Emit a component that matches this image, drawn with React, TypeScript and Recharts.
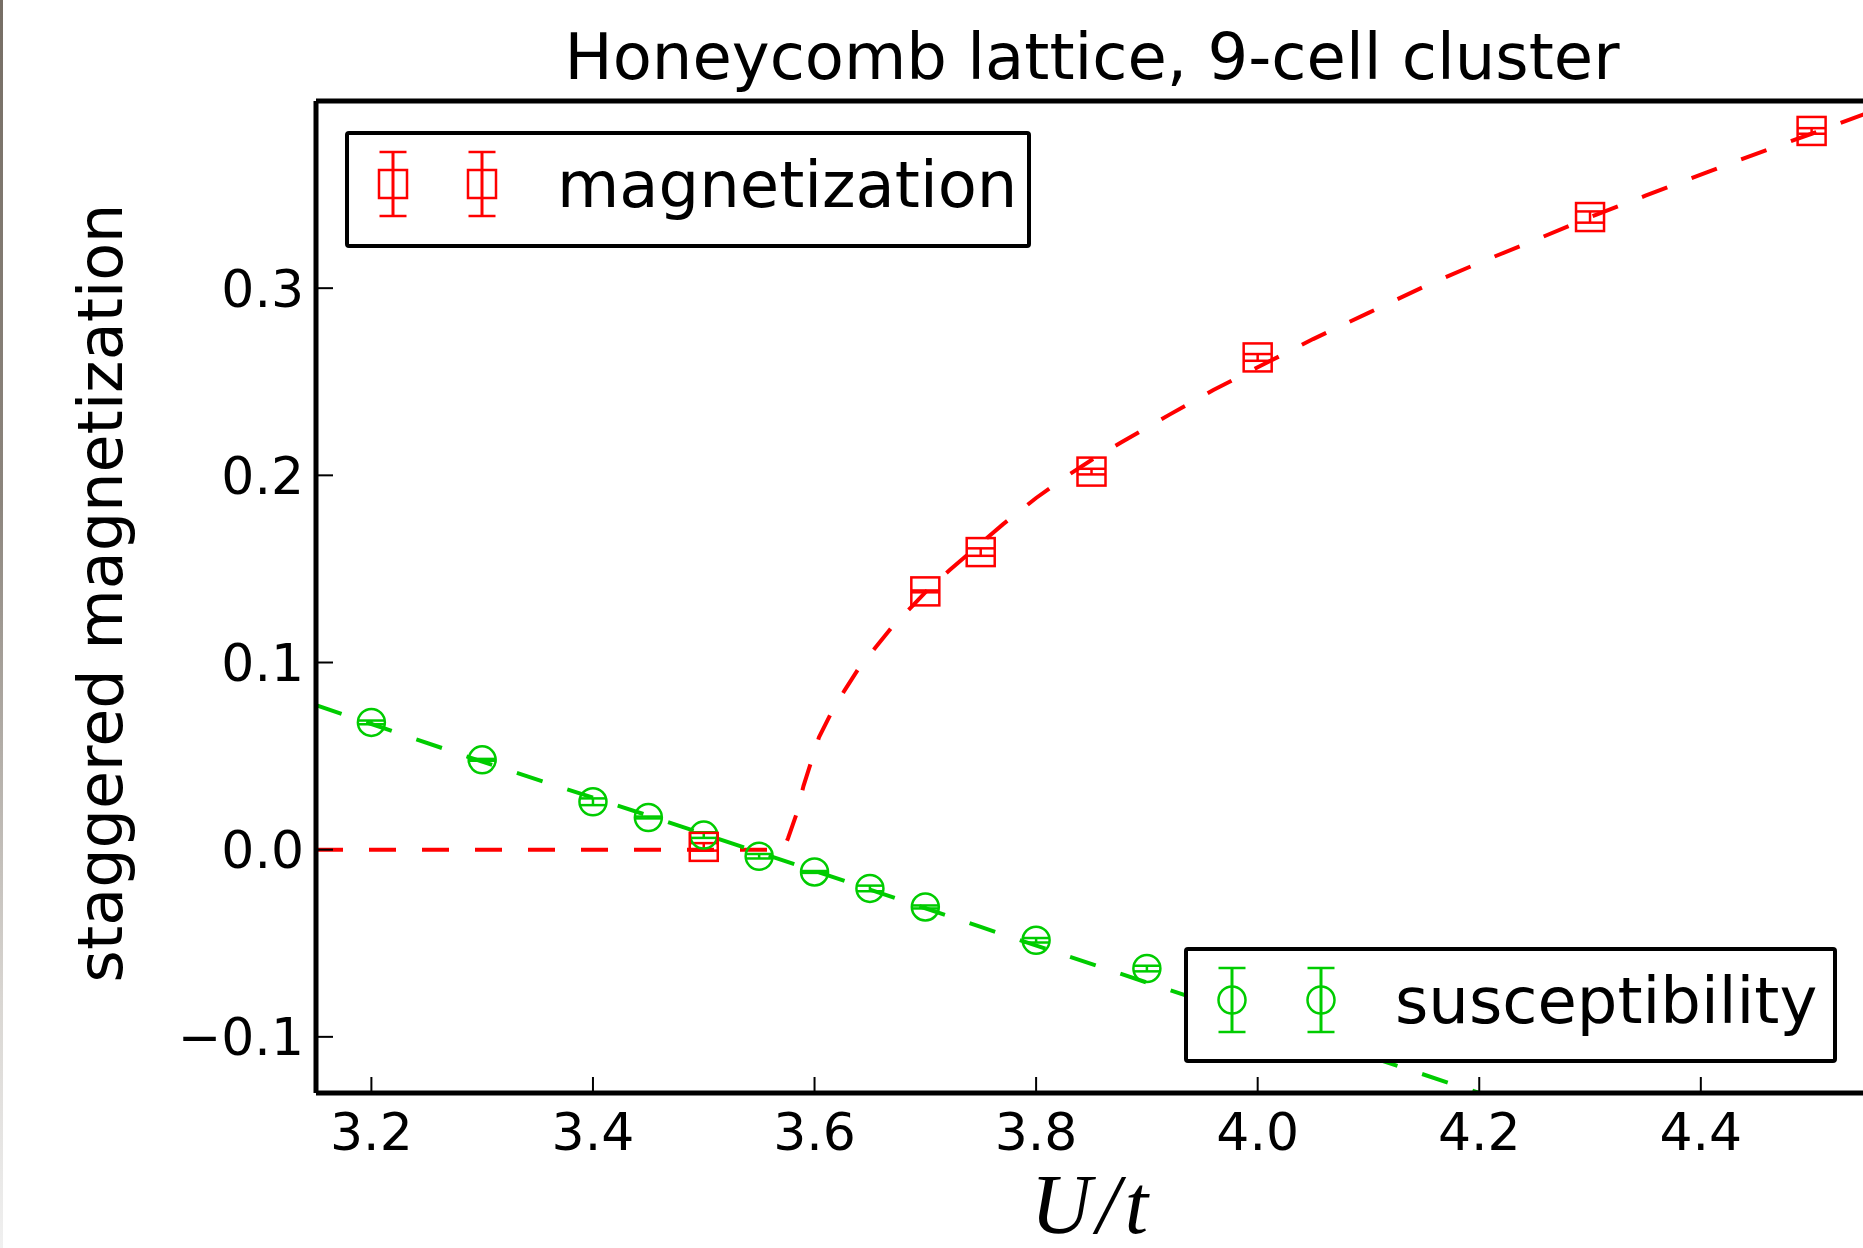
import React from "react";
import { ComposedChart, XAxis, YAxis, Scatter, Line, ErrorBar } from "recharts";

const RED = "#ff0000";
const GREEN = "#00cc00";
const FONT = "'DejaVu Sans', sans-serif";

// magnetization (red squares)
const magU = [3.5, 3.7, 3.75, 3.85, 4.0, 4.3, 4.5];
const magVal = [0.0015, 0.138, 0.159, 0.202, 0.263, 0.338, 0.384];
const magErr = [0.002, 0.0005, 0.002, 0.0015, 0.0018, 0.003, 0.0015];

// susceptibility (green circles)
const susU = [3.2, 3.3, 3.4, 3.45, 3.5, 3.55, 3.6, 3.65, 3.7, 3.8, 3.9];
const susVal = [0.068, 0.048, 0.0256, 0.0172, 0.0078, -0.0035, -0.0119, -0.0207, -0.0306, -0.0484, -0.0635];
const susErr = [0.001, 0.0005, 0.0018, 0.0005, 0.0015, 0.0012, 0.0005, 0.0015, 0.0008, 0.0012, 0.0015];

// dashed fit curves
const magFitU = [3.15, 3.572, 3.576, 3.584, 3.59, 3.597, 3.604, 3.615, 3.627, 3.64, 3.655, 3.67, 3.688, 3.704, 3.722, 3.739, 3.77, 3.8, 3.83, 3.85, 3.877, 3.92, 3.96, 4.0, 4.05, 4.1, 4.15, 4.2, 4.25, 4.3, 4.35, 4.4, 4.45, 4.5, 4.55];
const magFitVal = [0, 0, 0.006, 0.0195, 0.034, 0.047, 0.06, 0.073, 0.085, 0.097, 0.108, 0.119, 0.13, 0.14, 0.1494, 0.158, 0.1738, 0.1879, 0.2005, 0.2082, 0.2177, 0.2323, 0.2456, 0.2577, 0.2728, 0.2868, 0.3008, 0.3136, 0.3256, 0.3379, 0.3494, 0.3606, 0.3718, 0.3825, 0.3935];

const susFitU = [3.15, 3.3, 3.45, 3.6, 3.75, 3.9, 4.05, 4.2];
const susFitVal = [0.0772, 0.047, 0.0182, -0.0113, -0.0413, -0.071, -0.1005, -0.13];

const xTicks = [3.2, 3.4, 3.6, 3.8, 4.0, 4.2, 4.4];
const yTicks = [-0.1, 0.0, 0.1, 0.2, 0.3];

const magPoints = magU.map((x, i) => ({ x, y: magVal[i], e: magErr[i] }));
const susPoints = susU.map((x, i) => ({ x, y: susVal[i], e: susErr[i] }));
const magFit = magFitU.map((x, i) => ({ x, y: magFitVal[i] }));
const susFit = susFitU.map((x, i) => ({ x, y: susFitVal[i] }));

const fmtY = (v: number) => (v < 0 ? "\u2212" + Math.abs(v).toFixed(1) : v.toFixed(1));
const fmtX = (v: number) => v.toFixed(1);

const Square = (p: any) => (
  <rect x={p.cx - 14} y={p.cy - 14} width={28} height={28} fill="none" stroke={RED} strokeWidth={2.5} />
);
const Ring = (p: any) => (
  <circle cx={p.cx} cy={p.cy} r={13.5} fill="none" stroke={GREEN} strokeWidth={2.5} />
);

const tickStyle = { fontSize: 52, fill: "#000", fontFamily: FONT };
const spine = { stroke: "#000", strokeWidth: 5 };
const tickLn = { stroke: "#000", strokeWidth: 2 };

function Handle({ x, y, color, square }: { x: number; y: number; color: string; square?: boolean }) {
  return (
    <g stroke={color} fill="none">
      <line x1={x} y1={y - 32} x2={x} y2={y + 32} strokeWidth={3} />
      <line x1={x - 13.5} y1={y - 32} x2={x + 13.5} y2={y - 32} strokeWidth={2.5} />
      <line x1={x - 13.5} y1={y + 32} x2={x + 13.5} y2={y + 32} strokeWidth={2.5} />
      {square ? (
        <rect x={x - 14} y={y - 14} width={28} height={28} strokeWidth={2.5} />
      ) : (
        <circle cx={x} cy={y} r={13.5} strokeWidth={2.5} />
      )}
    </g>
  );
}

export default function App() {
  return (
    <div
      style={{
        position: "absolute",
        left: 0,
        top: 0,
        width: 1863,
        height: 1248,
        overflow: "hidden",
        background: "#fff",
      }}
    >
      <ComposedChart
        width={1910}
        height={1248}
        margin={{ top: 81, right: 23, left: 116, bottom: 55 }}
      >
        <XAxis
          dataKey="x"
          type="number"
          domain={[3.15, 4.55]}
          ticks={xTicks}
          allowDataOverflow
          height={100}
          tickSize={-16}
          tickMargin={36}
          tickFormatter={fmtX}
          tick={tickStyle}
          axisLine={spine}
          tickLine={tickLn}
        />
        <XAxis
          xAxisId="top"
          orientation="top"
          type="number"
          domain={[3.15, 4.55]}
          ticks={xTicks}
          allowDataOverflow
          height={20}
          tickSize={-16}
          tick={false}
          axisLine={spine}
          tickLine={tickLn}
        />
        <YAxis
          type="number"
          domain={[-0.13, 0.4]}
          ticks={yTicks}
          allowDataOverflow
          width={200}
          tickSize={-17}
          tickMargin={29}
          tickFormatter={fmtY}
          tick={tickStyle}
          axisLine={spine}
          tickLine={tickLn}
        />
        <YAxis
          yAxisId="right"
          orientation="right"
          type="number"
          domain={[-0.13, 0.4]}
          ticks={yTicks}
          allowDataOverflow
          width={20}
          tickSize={-17}
          tick={false}
          axisLine={spine}
          tickLine={tickLn}
        />
        <Scatter data={susPoints} dataKey="y" shape={Ring} isAnimationActive={false}>
          <ErrorBar dataKey="e" direction="y" width={13.5} stroke={GREEN} strokeWidth={2.5} isAnimationActive={false} />
        </Scatter>
        <Scatter data={magPoints} dataKey="y" shape={Square} isAnimationActive={false}>
          <ErrorBar dataKey="e" direction="y" width={13.5} stroke={RED} strokeWidth={2.5} isAnimationActive={false} />
        </Scatter>
        <Line
          data={magFit}
          dataKey="y"
          type="linear"
          stroke={RED}
          strokeWidth={4}
          strokeDasharray="27 26"
          dot={false}
          activeDot={false}
          isAnimationActive={false}
        />
        <Line
          data={susFit}
          dataKey="y"
          type="linear"
          stroke={GREEN}
          strokeWidth={4}
          strokeDasharray="27 26"
          dot={false}
          activeDot={false}
          isAnimationActive={false}
        />
      </ComposedChart>

      <svg
        width={1863}
        height={1248}
        style={{ position: "absolute", left: 0, top: 0, pointerEvents: "none" }}
        fontFamily={FONT}
      >
        <text x={1092} y={79} textAnchor="middle" fontSize={64} fill="#000">
          Honeycomb lattice, 9-cell cluster
        </text>
        <text
          x={1092}
          y={1233}
          textAnchor="middle"
          fontSize={84}
          fontStyle="italic"
          fontFamily="'Liberation Serif', serif"
          letterSpacing={5}
          fill="#000"
        >
          U/t
        </text>
        <text transform="translate(122,593) rotate(-90)" textAnchor="middle" fontSize={62} fill="#000">
          staggered magnetization
        </text>

        <rect x={347} y={133} width={682} height={113} rx={2} fill="#fff" stroke="#000" strokeWidth={4} />
        <Handle x={393} y={184} color={RED} square />
        <Handle x={482} y={184} color={RED} square />
        <text x={557} y={207} fontSize={64} fill="#000">
          magnetization
        </text>

        <rect x={1186} y={949} width={649} height={112} rx={2} fill="#fff" stroke="#000" strokeWidth={4} />
        <Handle x={1232} y={1000} color={GREEN} />
        <Handle x={1321} y={1000} color={GREEN} />
        <text x={1395} y={1023} fontSize={64} fill="#000">
          susceptibility
        </text>
      </svg>
      <div
        style={{
          position: "absolute",
          left: 0,
          top: 0,
          width: 3,
          height: 1248,
          background: "linear-gradient(#766e65, #8c857d 40%, #d9d6d2 80%, #f0f0f0)",
        }}
      />
    </div>
  );
}
